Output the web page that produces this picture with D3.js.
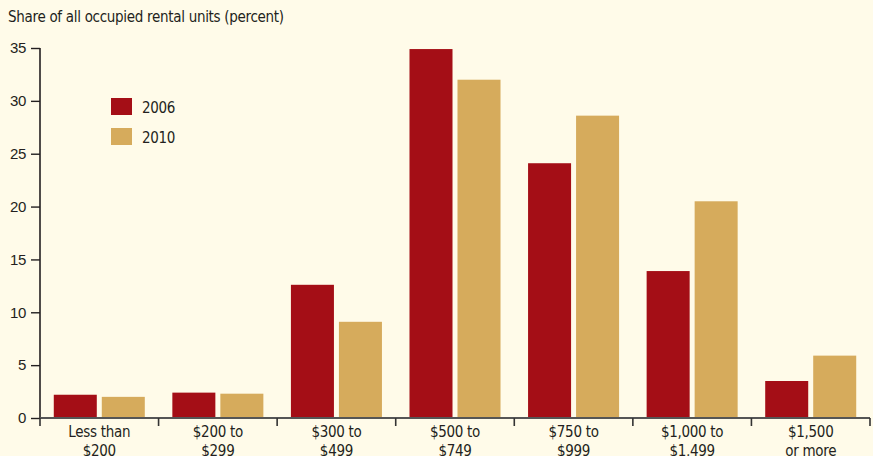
<!DOCTYPE html>
<html>
<head>
<meta charset="utf-8">
<script src="https://cdn.jsdelivr.net/npm/d3@7"></script>
<style>
  html, body { margin: 0; padding: 0; background: #fffbe9; }
  svg { display: block; font-family: "DejaVu Sans Condensed", "Liberation Sans Narrow", sans-serif; letter-spacing: -0.3px; }
</style>
</head>
<body>
<div id="chart"></div>
<script>
'use strict'

// categories and series
const categories = [
  ['Less than', '$200'],
  ['$200 to', '$299'],
  ['$300 to', '$499'],
  ['$500 to', '$749'],
  ['$750 to', '$999'],
  ['$1,000 to', '$1,499'],
  ['$1,500', 'or more']
]
const series = ['2006', '2010']
const values_2006 = [2.2, 2.4, 12.6, 34.9, 24.1, 13.9, 3.5]
const values_2010 = [2.0, 2.3, 9.1, 32.0, 28.6, 20.5, 5.9]
const y_ticks = [0, 5, 10, 15, 20, 25, 30, 35]
const title = 'Share of all occupied rental units (percent)'
const colors = { '2006': '#a40e16', '2010': '#d6ab5c' }

var W = 873, H = 456
var margin = {top: 48, right: 3, bottom: 38, left: 40}
  ,width = W - margin.left - margin.right
  ,height = H - margin.top - margin.bottom
var fs = 15

var svg = d3.select('#chart').append('svg')
  .attr('width', W)
  .attr('height', H)

svg.append('rect')
  .attr('width', W).attr('height', H)
  .attr('fill', '#fffbe9')

var g = svg.append('g')
  .attr('transform', 'translate(' + margin.left + ',' + margin.top + ')')

var keys = categories.map(function(d) { return d.join(' ') })

var scale_x = d3.scaleBand()
  .domain(keys)
  .range([0, width])
  .padding(0)

var scale_s = d3.scaleBand()
  .domain(series)
  .range([0, scale_x.bandwidth()])
  .paddingInner(0.104)
  .paddingOuter(0.287)

var scale_y = d3.scaleLinear()
  .domain([0, 35])
  .range([height, 0])

// title
svg.append('text')
  .attr('x', 8).attr('y', 22)
  .attr('font-size', fs)
  .attr('fill', '#231f20')
  .text(title)

// bars
var rows = keys.map(function(k, i) {
  return [{key: k, s: '2006', v: values_2006[i]}, {key: k, s: '2010', v: values_2010[i]}]
})

g.selectAll('g.cat')
  .data(rows)
  .enter().append('g')
  .attr('class', 'cat')
  .attr('transform', function(d) { return 'translate(' + scale_x(d[0].key) + ',0)' })
  .selectAll('rect')
  .data(function(d) { return d })
  .enter().append('rect')
  .attr('x', function(d) { return scale_s(d.s) })
  .attr('width', scale_s.bandwidth())
  .attr('y', function(d) { return scale_y(d.v) })
  .attr('height', function(d) { return height - scale_y(d.v) })
  .attr('fill', function(d) { return colors[d.s] })

// y axis
var y_axis = g.append('g')
  .attr('class', 'y axis')
  .call(d3.axisLeft(scale_y).tickValues(y_ticks).tickSize(9).tickPadding(5))
y_axis.select('.domain').attr('stroke', '#231f20').attr('stroke-width', 1.6)
  .attr('d', 'M0,' + height + 'V0')
y_axis.selectAll('.tick line').attr('stroke', '#231f20').attr('stroke-width', 1.4)
y_axis.selectAll('.tick text')
  .attr('font-size', fs)
  .attr('font-family', null)
  .attr('fill', '#231f20')

// x axis: ticks sit on category boundaries
var boundaries = keys.map(function(k) { return scale_x(k) }).concat([width])
var x_axis = g.append('g')
  .attr('class', 'x axis')
  .attr('transform', 'translate(0,' + height + ')')
x_axis.append('line')
  .attr('x1', 0).attr('x2', width)
  .attr('stroke', '#555').attr('stroke-width', 1.8)
x_axis.selectAll('line.tk')
  .data(boundaries)
  .enter().append('line')
  .attr('class', 'tk')
  .attr('x1', function(d) { return d }).attr('x2', function(d) { return d })
  .attr('y1', 0).attr('y2', 8)
  .attr('stroke', '#333').attr('stroke-width', 1.6)

var labels = x_axis.selectAll('text')
  .data(categories)
  .enter().append('text')
  .attr('text-anchor', 'middle')
  .attr('font-size', fs)
  .attr('fill', '#231f20')
  .attr('transform', function(d, i) { return 'translate(' + (scale_x(keys[i]) + scale_x.bandwidth() / 2) + ',0)' })
labels.selectAll('tspan')
  .data(function(d) { return d })
  .enter().append('tspan')
  .attr('x', 0)
  .attr('y', function(d, i) { return 19 + i * 19 })
  .text(function(d) { return d })

// legend
var legend = g.selectAll('g.legend')
  .data(series)
  .enter().append('g')
  .attr('class', 'legend')
  .attr('transform', function(d, i) { return 'translate(71,' + (50 + i * 30) + ')' })
legend.append('rect')
  .attr('width', 21).attr('height', 17)
  .attr('fill', function(d) { return colors[d] })
legend.append('text')
  .attr('x', 31).attr('y', 15)
  .attr('font-size', fs)
  .attr('fill', '#231f20')
  .text(function(d) { return d })
</script>
</body>
</html>
